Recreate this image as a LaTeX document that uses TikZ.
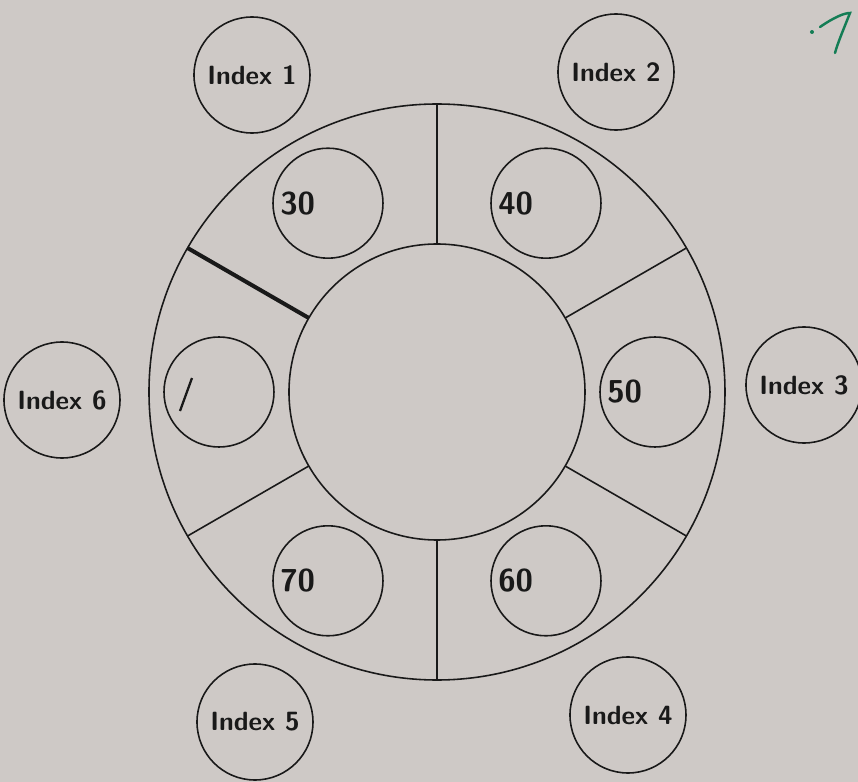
\documentclass[tikz,border=0pt]{standalone}
\usepackage{tikz}
\usetikzlibrary{positioning}
\definecolor{paper}{RGB}{206,201,198}
\definecolor{ink}{RGB}{25,25,25}
\definecolor{greenpen}{RGB}{20,125,85}

\begin{document}
\begin{tikzpicture}
		% Style definitions
		\tikzset{
			ring/.style={draw=ink, line width=0.9pt, circle, inner sep=0pt, outer sep=0pt},
			slot/.style={ring, minimum size=2.2cm},
			indexnode/.style={ring, minimum size=2.32cm, text=ink, font=\sffamily\bfseries\fontsize{15}{18}\selectfont},
			numtext/.style={anchor=west, inner sep=0pt, text=ink, font=\sffamily\bfseries\fontsize{18}{21}\selectfont},
			divider/.style={draw=ink, line width=0.9pt},
			pen/.style={draw=ink, line width=2.3pt}
		}
		
		% Paper background and picture frame
		\fill[paper] (-8.74,-7.80) rectangle (8.42,7.84);
		\useasboundingbox (-8.74,-7.80) rectangle (8.42,7.84);
		
		% Big ring: outer and inner circle
		\node[ring, minimum size=11.52cm] (Outer) at (0,0) {};
		\node[ring, minimum size=5.92cm] (Inner) at (0,0) {};
		
		% Printed dividers between the slots
		\draw[divider] (Inner.90) -- (Outer.90);
		\draw[divider] (Inner.30) -- (Outer.30);
		\draw[divider] (Inner.-30) -- (Outer.-30);
		\draw[divider] (Inner.-90) -- (Outer.-90);
		\draw[divider] (Inner.-150) -- (Outer.-150);
		
		% Hand-drawn divider (pen)
		\draw[pen] (Inner.150) -- (Outer.150);
		
		% Slots with their values
		\node[slot] (Slot30) at (120:4.36) {};
		\node[numtext] (Val30) at ([xshift=0.14cm]Slot30.west) {30};
		
		\node[slot] (Slot40) at (60:4.36) {};
		\node[numtext] (Val40) at ([xshift=0.14cm]Slot40.west) {40};
		
		\node[slot] (Slot50) at (0:4.36) {};
		\node[numtext] (Val50) at ([xshift=0.14cm]Slot50.west) {50};
		
		\node[slot] (Slot60) at (-60:4.36) {};
		\node[numtext] (Val60) at ([xshift=0.14cm]Slot60.west) {60};
		
		\node[slot] (Slot70) at (-120:4.36) {};
		\node[numtext] (Val70) at ([xshift=0.14cm]Slot70.west) {70};
		
		\node[slot] (Slot00) at (180:4.36) {};
		% Hand-written stroke in the empty slot
		\draw[ink, line width=1.3pt] (-4.90,0.28) -- (-5.14,-0.38);
		
		% Index circles around the ring
		\node[indexnode] (Index1) at (-3.70,6.34) {Index 1};
		\node[indexnode] (Index2) at (3.58,6.40) {Index 2};
		\node[indexnode] (Index3) at (7.34,0.14) {Index 3};
		\node[indexnode] (Index4) at (3.82,-6.46) {Index 4};
		\node[indexnode] (Index5) at (-3.64,-6.60) {Index 5};
		\node[indexnode] (Index6) at (-7.50,-0.16) {Index 6};
		
		% Green pen mark, top right
		\fill[greenpen] (7.50,7.20) circle (0.04);
		\draw[greenpen, line width=1.4pt, line cap=round] (7.66,7.30) .. controls (7.95,7.50) and (8.15,7.58) .. (8.26,7.58) .. controls (8.15,7.30) and (8.02,7.00) .. (7.96,6.78);
		
	\end{tikzpicture}
\end{document}
